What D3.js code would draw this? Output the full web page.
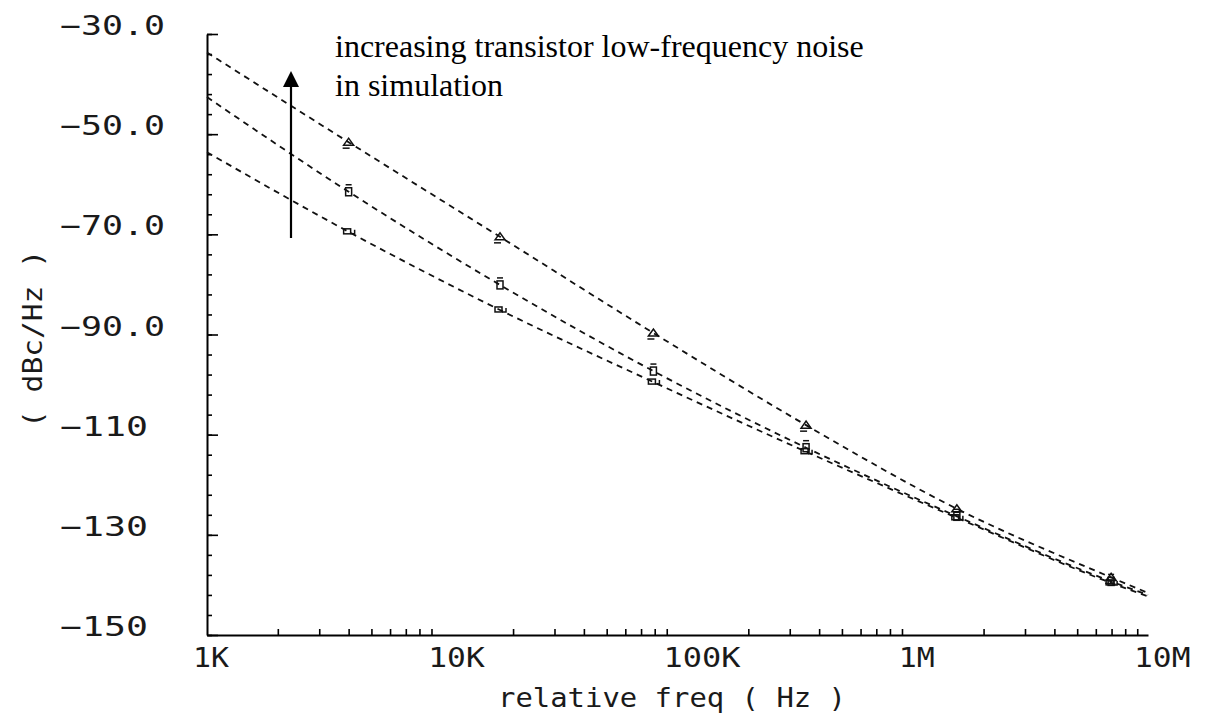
<!DOCTYPE html>
<html>
<head>
<meta charset="utf-8">
<script src="https://cdn.jsdelivr.net/npm/d3@7"></script>
<style>
  html, body { margin: 0; padding: 0; background: #fff; }
  svg { display: block; }
</style>
</head>
<body>
<svg id="chart" width="1208" height="721"></svg>
<script>
// ---- data ----
const freqs      = [1e3, 4.0e3, 1.76e4, 7.9e4, 3.52e5, 1.54e6, 6.97e6, 1e7];
const noiseHigh  = [-33.7, -51.6, -70.5, -89.7, -108.1, -124.8, -138.5, -141.6];
const noiseMid   = [-42.6, -61.5, -80.1, -97.3, -112.6, -126.3, -139.3, -142.0];
const noiseLow   = [-53.6, -69.5, -85.1, -99.5, -113.4, -126.6, -139.6, -142.3];
const markerIdx  = [1, 2, 3, 4, 5, 6];
const xTickLabels = [[1e3, "1K"], [1e4, "10K"], [1e5, "100K"], [1e6, "1M"], [1e7, "10M"]];
const yTickLabels = [[-30, "\u221230.0"], [-50, "\u221250.0"], [-70, "\u221270.0"], [-90, "\u221290.0"],
                     [-110, "\u2212110"], [-130, "\u2212130"], [-150, "\u2212150"]];
const yMinorTicks = d3.range(-150, -29, 4);
const yMajorTicks = d3.range(-150, -29, 20);
const xMinorTicks = [1e3, 1e4, 1e5, 1e6].flatMap(d => d3.range(2, 10).map(k => k * d));
const annotationLines = ["increasing transistor low-frequency noise", "in simulation"];
const xTitle = "relative freq ( Hz )";
const yTitle = "( dBc/Hz )";

// ---- scales ----
const svg = d3.select("#chart");
const x = d3.scaleLog().domain([1e3, 1e7]).range([207, 1148]);
const y = d3.scaleLinear().domain([-150, -30]).range([635, 34]);

const monoFont = "'DejaVu Sans Mono', 'Liberation Mono', monospace";
const labelInk = "#1a1a1a";

// ---- axes ----
const gy = svg.append("g").attr("transform", `translate(${x(1e3)},0)`);
gy.call(d3.axisRight(y).tickValues(yMinorTicks).tickSize(5).tickSizeOuter(0).tickFormat(""));
const gyMaj = svg.append("g").attr("transform", `translate(${x(1e3)},0)`);
gyMaj.call(d3.axisRight(y).tickValues(yMajorTicks).tickSize(11).tickSizeOuter(0).tickFormat(""));
gyMaj.select(".domain").remove();

const gx = svg.append("g").attr("transform", `translate(0,${y(-150)})`);
gx.call(d3.axisTop(x).tickValues(xMinorTicks).tickSize(6).tickSizeOuter(0).tickFormat(""));

svg.selectAll(".domain").attr("stroke", "#000").attr("stroke-width", 2);
svg.selectAll(".tick line").attr("stroke", "#000").attr("stroke-width", 1.6);

// y tick labels (left aligned, as in the reference)
svg.append("g").selectAll("text").data(yTickLabels).join("text")
  .attr("x", 60).attr("y", d => y(d[0]) + 1)
  .attr("font-family", monoFont).attr("font-size", 26)
  .attr("textLength", d => 17 * d[1].length + 20)
  .attr("lengthAdjust", "spacingAndGlyphs")
  .attr("fill", labelInk)
  .text(d => d[1]);

// x tick labels
svg.append("g").selectAll("text").data(xTickLabels).join("text")
  .attr("x", d => x(d[0]) - 14).attr("y", 667)
  .attr("font-family", monoFont).attr("font-size", 26)
  .attr("textLength", d => 20.5 * d[1].length - 5)
  .attr("lengthAdjust", "spacingAndGlyphs")
  .attr("fill", labelInk)
  .text(d => d[1]);

// axis titles
svg.append("text")
  .attr("x", 498).attr("y", 707)
  .attr("font-family", monoFont).attr("font-size", 27)
  .attr("textLength", 348).attr("lengthAdjust", "spacingAndGlyphs")
  .attr("fill", labelInk)
  .text(xTitle);

svg.append("text")
  .attr("transform", "translate(42,339) rotate(-90)")
  .attr("text-anchor", "middle")
  .attr("font-family", monoFont).attr("font-size", 27)
  .attr("textLength", 178).attr("lengthAdjust", "spacingAndGlyphs")
  .attr("fill", labelInk)
  .text(yTitle);

// ---- series ----
const series = [
  { name: "high", values: noiseHigh, marker: "triangle" },
  { name: "mid",  values: noiseMid,  marker: "square" },
  { name: "low",  values: noiseLow,  marker: "rect" }
];

const line = d3.line()
  .x((d, i) => x(freqs[i]))
  .y(d => y(d))
  .curve(d3.curveMonotoneX);

svg.append("g").selectAll("path").data(series).join("path")
  .attr("d", s => line(s.values))
  .attr("fill", "none")
  .attr("stroke", "#111")
  .attr("stroke-width", 1.8)
  .attr("stroke-dasharray", "6,5");

// markers
const markerG = svg.append("g").attr("fill", "none").attr("stroke", "#111").attr("stroke-width", 1.5);
series.forEach(s => {
  markerIdx.forEach(i => {
    const cx = x(freqs[i]), cy = y(s.values[i]);
    const g = markerG.append("g").attr("transform", `translate(${cx},${cy})`);
    if (s.marker === "triangle") {
      g.append("path").attr("d", "M-5,3 L0,-4 L5,3 Z");
      g.append("path").attr("d", "M-6,6 L1,6");
    } else if (s.marker === "square") {
      g.append("rect").attr("x", -3).attr("y", -4).attr("width", 6).attr("height", 8);
      g.append("path").attr("d", "M-3,-7 L3,-7");
    } else {
      g.append("rect").attr("x", -5).attr("y", -3).attr("width", 7).attr("height", 5);
      g.append("path").attr("d", "M2,2 L6,2 L6,-2");
    }
  });
});

// ---- annotation ----
const ann = svg.append("g")
  .attr("font-family", "'Liberation Serif', 'Times New Roman', serif")
  .attr("font-size", 32)
  .attr("fill", "#000");
ann.selectAll("text").data(annotationLines).join("text")
  .attr("x", 335)
  .attr("y", (d, i) => 57 + i * 39)
  .text(d => d);

// arrow
svg.append("line")
  .attr("x1", 291).attr("y1", 238).attr("x2", 291).attr("y2", 84)
  .attr("stroke", "#000").attr("stroke-width", 2.2);
svg.append("path")
  .attr("d", "M291,71 L283,87 L299,87 Z")
  .attr("fill", "#000");
</script>
</body>
</html>
